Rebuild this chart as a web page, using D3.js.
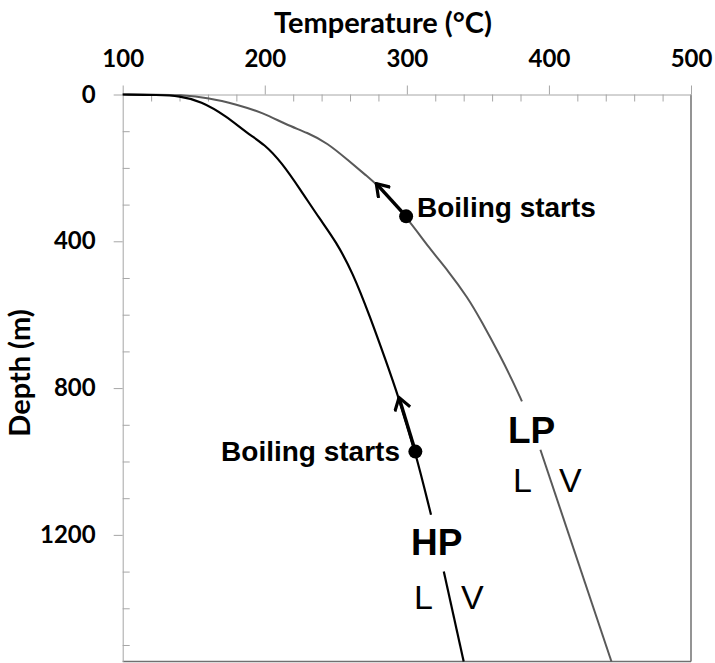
<!DOCTYPE html>
<html>
<head>
<meta charset="utf-8">
<script src="https://cdn.jsdelivr.net/npm/d3@7"></script>
<style>
  body { margin: 0; background: #fff; }
</style>
</head>
<body>
<script>
// temperature (°C) vs depth (m)
var hpTemp  = [100, 125, 140, 155, 173, 187, 200, 212, 225, 239, 250, 262, 274, 285, 294, 306, 317, 326, 340];
var hpDepth = [0, 1, 4, 18, 59, 104, 136, 186, 259, 341, 400, 486, 605, 723, 823, 973, 1145, 1300, 1545];
var lpTemp  = [100, 125, 140, 161, 180, 199, 215, 230, 244, 258, 272, 279, 299.5, 316, 329, 343, 352, 366, 374, 381, 394, 444];
var lpDepth = [0, 0.5, 1, 9, 27, 50, 82, 104, 132, 177, 223, 245, 332, 420, 480, 554, 614, 714, 777, 836, 968, 1545];

// gaps in the curves where the labels sit
var hpGap = [1145, 1300];
var lpGap = [836, 968];

// boiling start points and arrow tips
var boilTemp  = [299.5, 306];
var boilDepth = [332, 973];
var tipTemp   = [278.5, 294.5];
var tipDepth  = [243, 826];

var xTicks = [100, 200, 300, 400, 500];
var yTicks = [0, 400, 800, 1200];

var width = 715, height = 663;
var calibri = 'Lato, "Open Sans", sans-serif';
var arial = '"Liberation Sans", Arial, sans-serif';

var svg = d3.select('body').append('svg')
  .attr('width', width).attr('height', height);

var x = d3.scaleLinear().domain([100, 500]).range([122.7, 691]);
var y = d3.scaleLinear().domain([0, 1545]).range([94.5, 661.5]);

// frame: right + bottom darker
svg.append('line').attr('x1', 691).attr('x2', 691).attr('y1', 94.5).attr('y2', 661.5)
  .attr('stroke', '#707070').attr('stroke-width', 1.5);
svg.append('line').attr('x1', 122.7).attr('x2', 691).attr('y1', 661.5).attr('y2', 661.5)
  .attr('stroke', '#707070').attr('stroke-width', 1.5);

// top axis: major ticks outside, minor inside
var xAxisMajor = d3.axisTop(x).tickValues(xTicks).tickSize(9).tickSizeOuter(0).tickFormat(d3.format('d'));
var gx = svg.append('g').attr('transform', 'translate(0,94.5)').call(xAxisMajor);
gx.select('.domain').attr('stroke', '#a6a6a6');
gx.selectAll('.tick line').attr('stroke', '#a6a6a6');
gx.selectAll('.tick text').attr('font-family', calibri).attr('font-size', 24).attr('font-weight', 700)
  .attr('fill', '#000').attr('dy', 0).attr('y', -28);

var xAxisMinor = d3.axisBottom(x).tickValues(d3.range(120, 500, 20).filter(function(d){ return d % 100 }))
  .tickSize(7).tickSizeOuter(0).tickFormat('');
var gx2 = svg.append('g').attr('transform', 'translate(0,94.5)').call(xAxisMinor);
gx2.select('.domain').remove();
gx2.selectAll('.tick line').attr('stroke', '#a6a6a6');

// left axis
var yAxisMajor = d3.axisLeft(y).tickValues(yTicks).tickSize(9).tickSizeOuter(0).tickFormat(d3.format('d'));
var gy = svg.append('g').attr('transform', 'translate(122.7,0)').call(yAxisMajor);
gy.select('.domain').attr('stroke', '#a6a6a6');
gy.selectAll('.tick line').attr('stroke', '#a6a6a6');
gy.selectAll('.tick text').attr('font-family', calibri).attr('font-size', 24).attr('font-weight', 700)
  .attr('fill', '#000').attr('x', -27);

var yAxisMinor = d3.axisRight(y).tickValues(d3.range(100, 1545, 100).filter(function(d){ return d % 400 }))
  .tickSize(7).tickSizeOuter(0).tickFormat('');
var gy2 = svg.append('g').attr('transform', 'translate(122.7,0)').call(yAxisMinor);
gy2.select('.domain').remove();
gy2.selectAll('.tick line').attr('stroke', '#a6a6a6');

// axis titles
svg.append('text').attr('x', 383).attr('y', 33).attr('text-anchor', 'middle')
  .attr('font-family', calibri).attr('font-size', 29).attr('font-weight', 700).text('Temperature (°C)');
svg.append('text').attr('transform', 'translate(30,373) rotate(-90)').attr('text-anchor', 'middle')
  .attr('font-family', calibri).attr('font-size', 29).attr('font-weight', 700).text('Depth (m)');

// curves
var line = d3.line()
  .x(function(d){ return x(d[0]) })
  .y(function(d){ return y(d[1]) })
  .curve(d3.curveBasis);

function pieces(temps, depths, gap) {
  var pts = temps.map(function(t, i){ return [t, depths[i]] });
  return [
    pts.filter(function(p){ return p[1] <= gap[0] }),
    pts.filter(function(p){ return p[1] >= gap[1] })
  ];
}

svg.selectAll('path.lp').data(pieces(lpTemp, lpDepth, lpGap)).enter()
  .append('path').attr('class', 'lp')
  .attr('d', line).attr('fill', 'none').attr('stroke', '#595959').attr('stroke-width', 2);

svg.selectAll('path.hp').data(pieces(hpTemp, hpDepth, hpGap)).enter()
  .append('path').attr('class', 'hp')
  .attr('d', line).attr('fill', 'none').attr('stroke', '#000').attr('stroke-width', 2.2);

// arrows
svg.append('defs').append('marker')
  .attr('id', 'chev').attr('viewBox', '-14 -9 16 18')
  .attr('markerWidth', 16).attr('markerHeight', 18)
  .attr('markerUnits', 'userSpaceOnUse').attr('orient', 'auto')
  .append('path').attr('d', 'M-12,-8 L0,0 L-12,8')
  .attr('fill', 'none').attr('stroke', '#000').attr('stroke-width', 3.2);

svg.selectAll('line.arrow').data(boilTemp).enter()
  .append('line').attr('class', 'arrow')
  .attr('x1', function(d, i){ return x(boilTemp[i]) })
  .attr('y1', function(d, i){ return y(boilDepth[i]) })
  .attr('x2', function(d, i){ return x(tipTemp[i]) })
  .attr('y2', function(d, i){ return y(tipDepth[i]) })
  .attr('stroke', '#000').attr('stroke-width', 3.5)
  .attr('marker-end', 'url(#chev)');

svg.selectAll('circle.boil').data(boilTemp).enter()
  .append('circle').attr('class', 'boil')
  .attr('cx', function(d){ return x(d) })
  .attr('cy', function(d, i){ return y(boilDepth[i]) })
  .attr('r', 7).attr('fill', '#000');

// annotations
svg.append('text').attr('x', 417).attr('y', 217).attr('font-family', arial)
  .attr('font-size', 28).attr('font-weight', 700).text('Boiling starts');
svg.append('text').attr('x', 400).attr('y', 461).attr('font-family', arial).attr('text-anchor', 'end')
  .attr('font-size', 28).attr('font-weight', 700).text('Boiling starts');

svg.append('text').attr('x', 508).attr('y', 443).attr('font-family', arial)
  .attr('font-size', 37).attr('font-weight', 700).text('LP');
svg.append('text').attr('x', 513).attr('y', 492).attr('font-family', arial)
  .attr('font-size', 34).text('L');
svg.append('text').attr('x', 559).attr('y', 492).attr('font-family', arial)
  .attr('font-size', 34).text('V');

svg.append('text').attr('x', 411).attr('y', 555).attr('font-family', arial)
  .attr('font-size', 37).attr('font-weight', 700).text('HP');
svg.append('text').attr('x', 414).attr('y', 609).attr('font-family', arial)
  .attr('font-size', 34).text('L');
svg.append('text').attr('x', 461).attr('y', 609).attr('font-family', arial)
  .attr('font-size', 34).text('V');
</script>
</body>
</html>
